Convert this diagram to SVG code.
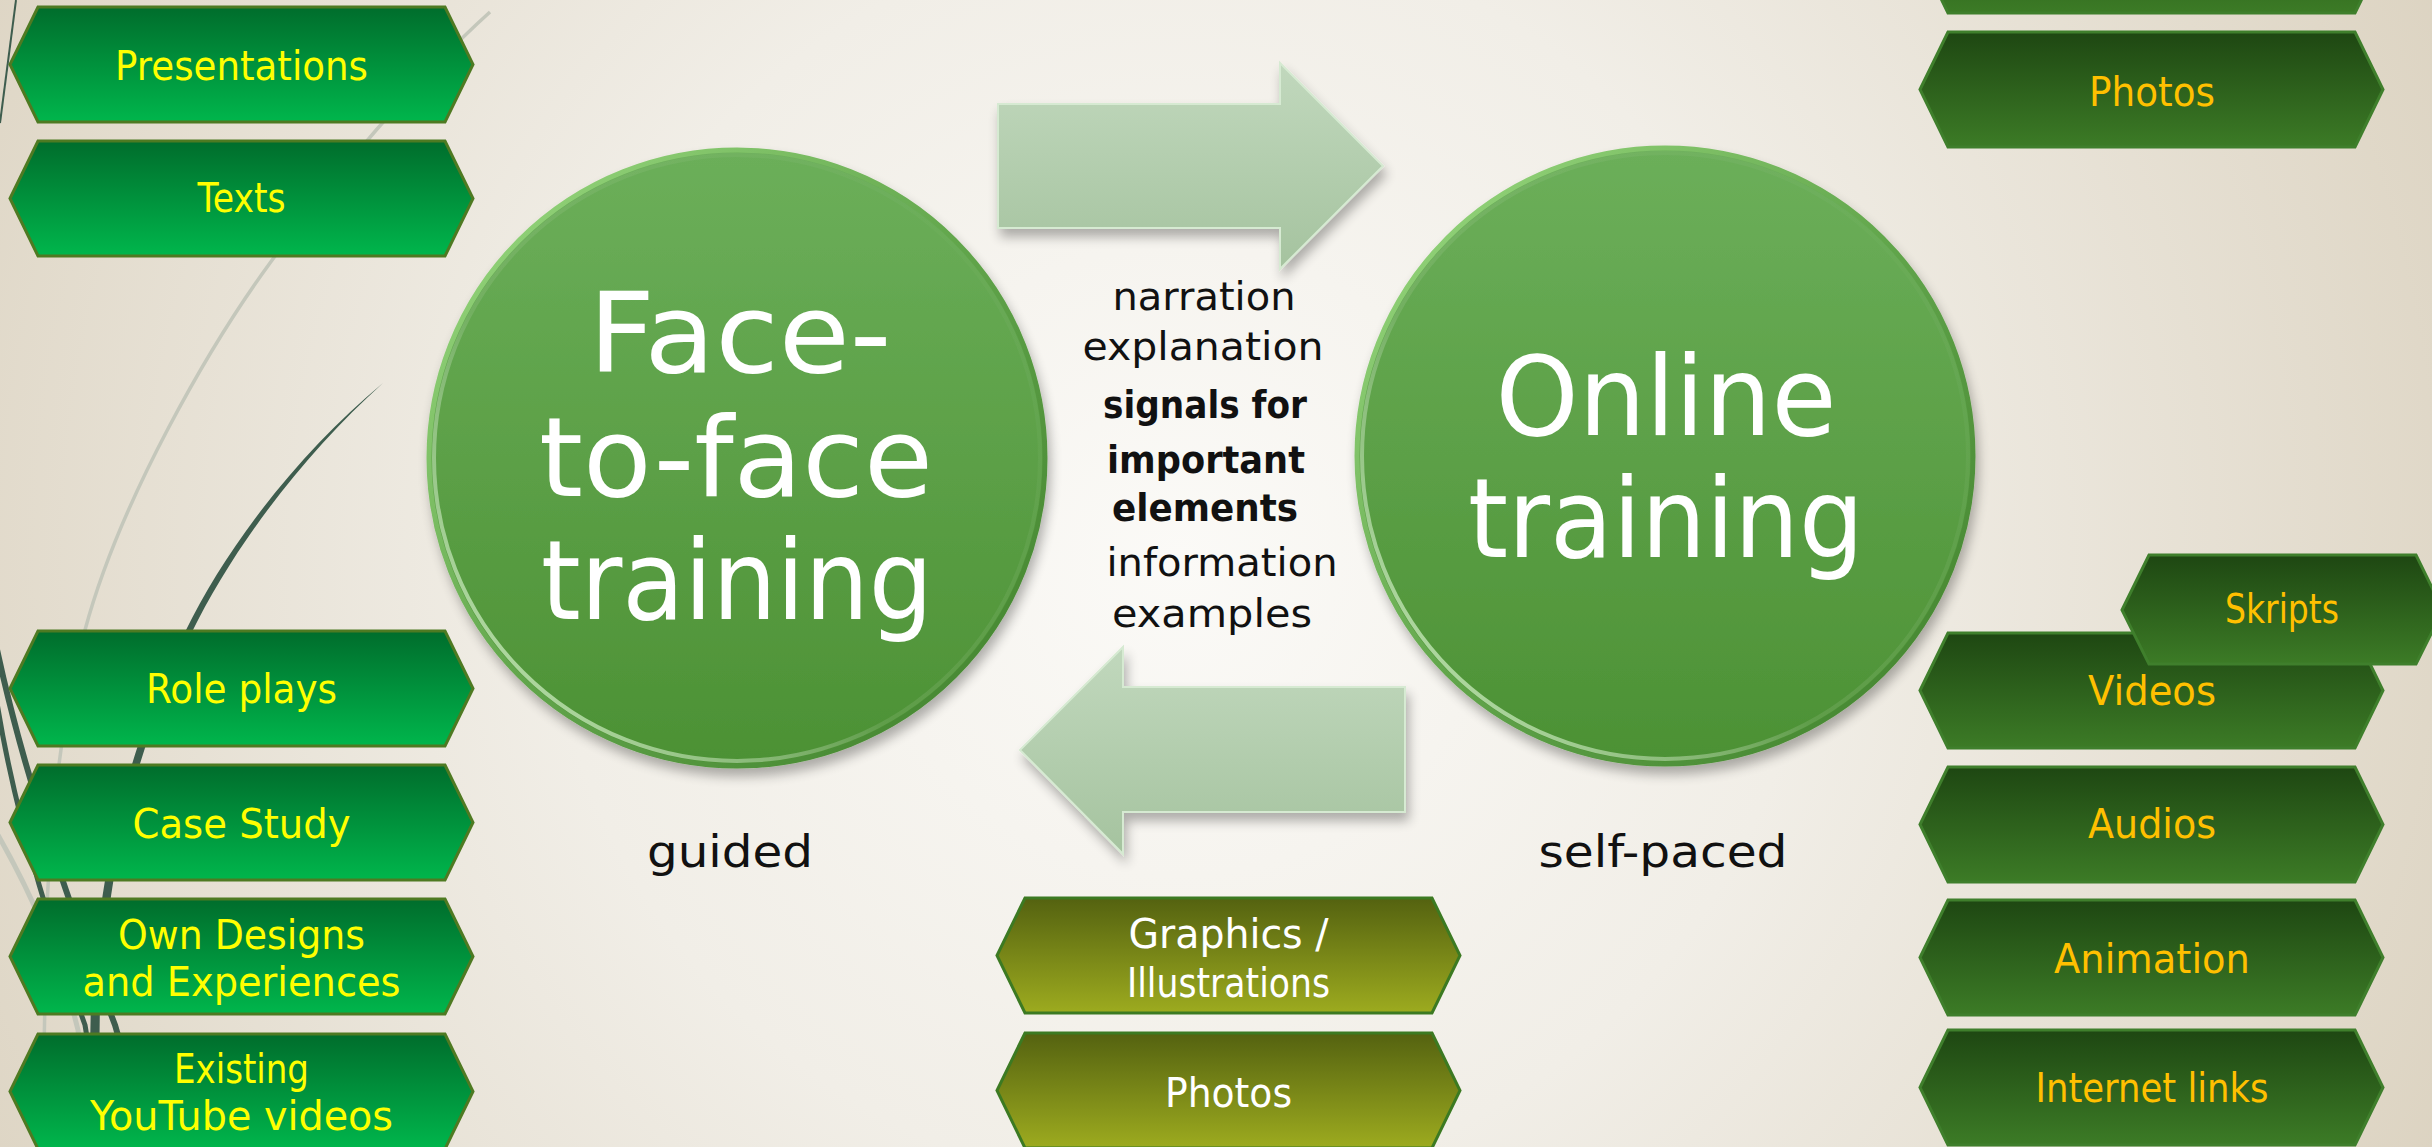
<svg xmlns="http://www.w3.org/2000/svg" xmlns:xlink="http://www.w3.org/1999/xlink" width="2432" height="1147" viewBox="0 0 2432 1147">
<defs>
  <radialGradient id="bg" gradientUnits="userSpaceOnUse" cx="1180" cy="560" r="1400">
    <stop offset="0" stop-color="#fbfaf7"/>
    <stop offset="0.45" stop-color="#f1eee7"/>
    <stop offset="1" stop-color="#dcd3c1"/>
  </radialGradient>
  <linearGradient id="gLeft" x1="0" y1="0" x2="0" y2="1">
    <stop offset="0" stop-color="#006d2c"/>
    <stop offset="1" stop-color="#00b64c"/>
  </linearGradient>
  <linearGradient id="gRight" x1="0" y1="0" x2="0" y2="1">
    <stop offset="0" stop-color="#1e4712"/>
    <stop offset="1" stop-color="#3c7b26"/>
  </linearGradient>
  <linearGradient id="gOlive" x1="0" y1="0" x2="0" y2="1">
    <stop offset="0" stop-color="#546210"/>
    <stop offset="1" stop-color="#9dab1f"/>
  </linearGradient>
  <linearGradient id="gArrow" x1="0" y1="0" x2="0" y2="1">
    <stop offset="0" stop-color="#c1d8bd"/>
    <stop offset="1" stop-color="#a5c39f"/>
  </linearGradient>
  <linearGradient id="gCircle" x1="0" y1="0" x2="0" y2="1">
    <stop offset="0" stop-color="#6caf5a"/>
    <stop offset="1" stop-color="#4c9134"/>
  </linearGradient>
  <linearGradient id="gRim" x1="0" y1="0" x2="1" y2="1">
    <stop offset="0" stop-color="#9ede84"/>
    <stop offset="0.5" stop-color="#62a64c"/>
    <stop offset="1" stop-color="#3f7f2a"/>
  </linearGradient>
  <linearGradient id="gRim2" x1="1" y1="0" x2="0" y2="1">
    <stop offset="0" stop-color="#ffffff" stop-opacity="0"/>
    <stop offset="0.6" stop-color="#ffffff" stop-opacity="0.1"/>
    <stop offset="1" stop-color="#d8ffc8" stop-opacity="0.9"/>
  </linearGradient>
  <filter id="shadow" x="-10%" y="-10%" width="125%" height="130%">
    <feGaussianBlur in="SourceAlpha" stdDeviation="6"/>
    <feOffset dx="3" dy="8" result="b"/>
    <feComponentTransfer><feFuncA type="linear" slope="0.3"/></feComponentTransfer>
    <feMerge><feMergeNode/><feMergeNode in="SourceGraphic"/></feMerge>
  </filter>
  <path id="hex" d="M0,57.5 L28,0 L435,0 L463,57.5 L435,115 L28,115 Z"/>
  <style>
    .hl { fill: url(#gLeft); stroke: #4e7a22; stroke-width: 3; }
    .hr { fill: url(#gRight); stroke: #3f7f2c; stroke-width: 3; }
    .ho { fill: url(#gOlive); stroke: #3c7a22; stroke-width: 3; }
    .tl { font-family: "DejaVu Sans", "Liberation Sans", sans-serif; font-size: 40px; fill: #ffff00; text-anchor: middle; }
    .tr { font-family: "DejaVu Sans", "Liberation Sans", sans-serif; font-size: 40px; fill: #ffc000; text-anchor: middle; }
    .tw { font-family: "DejaVu Sans", "Liberation Sans", sans-serif; font-size: 40px; fill: #ffffff; text-anchor: middle; }
    .big { font-family: "DejaVu Sans", "Liberation Sans", sans-serif; font-size: 110px; fill: #ffffff; text-anchor: middle; }
    .mid { font-family: "DejaVu Sans", "Liberation Sans", sans-serif; font-size: 39px; fill: #111111; text-anchor: middle; }
    .midb { font-family: "DejaVu Sans", "Liberation Sans", sans-serif; font-size: 37px; font-weight: bold; fill: #111111; text-anchor: middle; }
    .lab { font-family: "DejaVu Sans", "Liberation Sans", sans-serif; font-size: 45px; fill: #111111; text-anchor: middle; }
    .arrow { fill: url(#gArrow); stroke: #d6ead2; stroke-width: 2; filter: url(#shadow); }
    .circ { fill: url(#gCircle); stroke: url(#gRim); stroke-width: 5; }
    .rim2 { fill: none; stroke: url(#gRim2); stroke-width: 4; }
    .wispL { fill: none; stroke: #c4c7bb; }
    .wispD { fill: none; stroke: #3e5d4e; }
  </style>
</defs>

<rect x="0" y="0" width="2432" height="1147" fill="url(#bg)"/>

<g id="background-wisps">
  <path class="wispL" stroke-width="3.5" d="M490,12 C420,75 330,180 270,263 C210,345 120,500 85,630 C60,720 45,850 45,1000 L42,1147"/>
  <path class="wispL" stroke-width="5" d="M-2,835 C35,900 62,965 78,1030 L92,1147"/>
  <path class="wispD" stroke-width="2" d="M16,0 L0,123"/>
  <path fill="#3e5d4e" d="M383,383 C300,452 228,544 185,632 C148,712 106,802 91,1000 L88,1147 L98,1147 L100,1000 C114,804 154,716 191,634 C234,546 304,454 383,383 Z"/>
  <path class="wispD" stroke-width="6" d="M-5,640 C20,760 60,880 115,1025 L150,1147"/>
  <path class="wispD" stroke-width="5" d="M-5,690 C10,790 40,900 85,1025 L105,1147"/>
</g>

<g id="connectors">
  <path id="arrow-right" class="arrow" d="M998,104 L1280,104 L1280,63 L1383,166 L1280,269 L1280,228 L998,228 Z"/>
  <path id="arrow-left" class="arrow" d="M1405,687 L1123,687 L1123,647 L1020,750 L1123,854 L1123,812 L1405,812 Z"/>
</g>

<g id="node-face-to-face" filter="url(#shadow)">
  <circle class="circ" cx="737" cy="458" r="308"/>
  <circle class="rim2" cx="737" cy="458" r="303"/>
  <text class="big" x="740" y="372" textLength="303" lengthAdjust="spacingAndGlyphs">Face-</text>
  <text class="big" x="736" y="496" textLength="394" lengthAdjust="spacingAndGlyphs">to-face</text>
  <text class="big" x="737" y="619" textLength="392" lengthAdjust="spacingAndGlyphs">training</text>
</g>

<g id="node-online" filter="url(#shadow)">
  <circle class="circ" cx="1665" cy="456" r="308"/>
  <circle class="rim2" cx="1665" cy="456" r="303"/>
  <text class="big" x="1666" y="435" textLength="341" lengthAdjust="spacingAndGlyphs">Online</text>
  <text class="big" x="1666" y="557" textLength="396" lengthAdjust="spacingAndGlyphs">training</text>
</g>

<g id="node-middle-text">
  <text class="mid" x="1204" y="310" textLength="183" lengthAdjust="spacingAndGlyphs">narration</text>
  <text class="mid" x="1203" y="360" textLength="241" lengthAdjust="spacingAndGlyphs">explanation</text>
  <text class="midb" x="1205" y="418" textLength="204" lengthAdjust="spacingAndGlyphs">signals for</text>
  <text class="midb" x="1206" y="473" textLength="198" lengthAdjust="spacingAndGlyphs">important</text>
  <text class="midb" x="1205" y="521" textLength="186" lengthAdjust="spacingAndGlyphs">elements</text>
  <text class="mid" x="1222" y="576" textLength="231" lengthAdjust="spacingAndGlyphs">information</text>
  <text class="mid" x="1212" y="627" textLength="200" lengthAdjust="spacingAndGlyphs">examples</text>
</g>

<g id="label-guided"><text class="lab" x="730" y="867" textLength="166" lengthAdjust="spacingAndGlyphs">guided</text></g>
<g id="label-self-paced"><text class="lab" x="1663" y="867" textLength="249" lengthAdjust="spacingAndGlyphs">self-paced</text></g>

<!-- Left column -->
<g id="node-presentations">
  <use xlink:href="#hex" href="#hex" class="hl" transform="translate(10,7)"/>
  <text class="tl" x="241.5" y="80" textLength="253" lengthAdjust="spacingAndGlyphs">Presentations</text>
</g>
<g id="node-texts">
  <use xlink:href="#hex" href="#hex" class="hl" transform="translate(10,141)"/>
  <text class="tl" x="241.5" y="212" textLength="88" lengthAdjust="spacingAndGlyphs">Texts</text>
</g>
<g id="node-role-plays">
  <use xlink:href="#hex" href="#hex" class="hl" transform="translate(10,631)"/>
  <text class="tl" x="241.5" y="703" textLength="191" lengthAdjust="spacingAndGlyphs">Role plays</text>
</g>
<g id="node-case-study">
  <use xlink:href="#hex" href="#hex" class="hl" transform="translate(10,765)"/>
  <text class="tl" x="241.5" y="838" textLength="218" lengthAdjust="spacingAndGlyphs">Case Study</text>
</g>
<g id="node-own-designs">
  <use xlink:href="#hex" href="#hex" class="hl" transform="translate(10,899)"/>
  <text class="tl" x="241.5" y="949" textLength="247" lengthAdjust="spacingAndGlyphs">Own Designs</text>
  <text class="tl" x="241.5" y="996" textLength="318" lengthAdjust="spacingAndGlyphs">and Experiences</text>
</g>
<g id="node-existing-youtube">
  <use xlink:href="#hex" href="#hex" class="hl" transform="translate(10,1034)"/>
  <text class="tl" x="241.5" y="1083" textLength="135" lengthAdjust="spacingAndGlyphs">Existing</text>
  <text class="tl" x="241.5" y="1130" textLength="303" lengthAdjust="spacingAndGlyphs">YouTube videos</text>
</g>

<!-- Middle bottom -->
<g id="node-graphics">
  <use xlink:href="#hex" href="#hex" class="ho" transform="translate(997,898)"/>
  <text class="tw" x="1228.5" y="948" textLength="200" lengthAdjust="spacingAndGlyphs">Graphics /</text>
  <text class="tw" x="1228.5" y="997" textLength="203" lengthAdjust="spacingAndGlyphs">Illustrations</text>
</g>
<g id="node-photos-middle">
  <use xlink:href="#hex" href="#hex" class="ho" transform="translate(997,1033)"/>
  <text class="tw" x="1228.5" y="1107" textLength="127" lengthAdjust="spacingAndGlyphs">Photos</text>
</g>

<!-- Right column -->
<g id="node-right-top">
  <use xlink:href="#hex" href="#hex" class="hr" transform="translate(1920,-102)"/>
</g>
<g id="node-photos-right">
  <use xlink:href="#hex" href="#hex" class="hr" transform="translate(1920,32)"/>
  <text class="tr" x="2152" y="106" textLength="126" lengthAdjust="spacingAndGlyphs">Photos</text>
</g>
<g id="node-videos">
  <use xlink:href="#hex" href="#hex" class="hr" transform="translate(1920,633)"/>
  <text class="tr" x="2152" y="705" textLength="128" lengthAdjust="spacingAndGlyphs">Videos</text>
</g>
<g id="node-skripts">
  <path class="hr" d="M2122,610 L2149,555 L2416,555 L2443,610 L2416,664 L2149,664 Z"/>
  <text class="tr" x="2282" y="623" textLength="114" lengthAdjust="spacingAndGlyphs">Skripts</text>
</g>
<g id="node-audios">
  <use xlink:href="#hex" href="#hex" class="hr" transform="translate(1920,767)"/>
  <text class="tr" x="2152" y="838" textLength="128" lengthAdjust="spacingAndGlyphs">Audios</text>
</g>
<g id="node-animation">
  <use xlink:href="#hex" href="#hex" class="hr" transform="translate(1920,900)"/>
  <text class="tr" x="2152" y="973" textLength="196" lengthAdjust="spacingAndGlyphs">Animation</text>
</g>
<g id="node-internet-links">
  <use xlink:href="#hex" href="#hex" class="hr" transform="translate(1920,1030)"/>
  <text class="tr" x="2152" y="1102" textLength="233" lengthAdjust="spacingAndGlyphs">Internet links</text>
</g>
</svg>
